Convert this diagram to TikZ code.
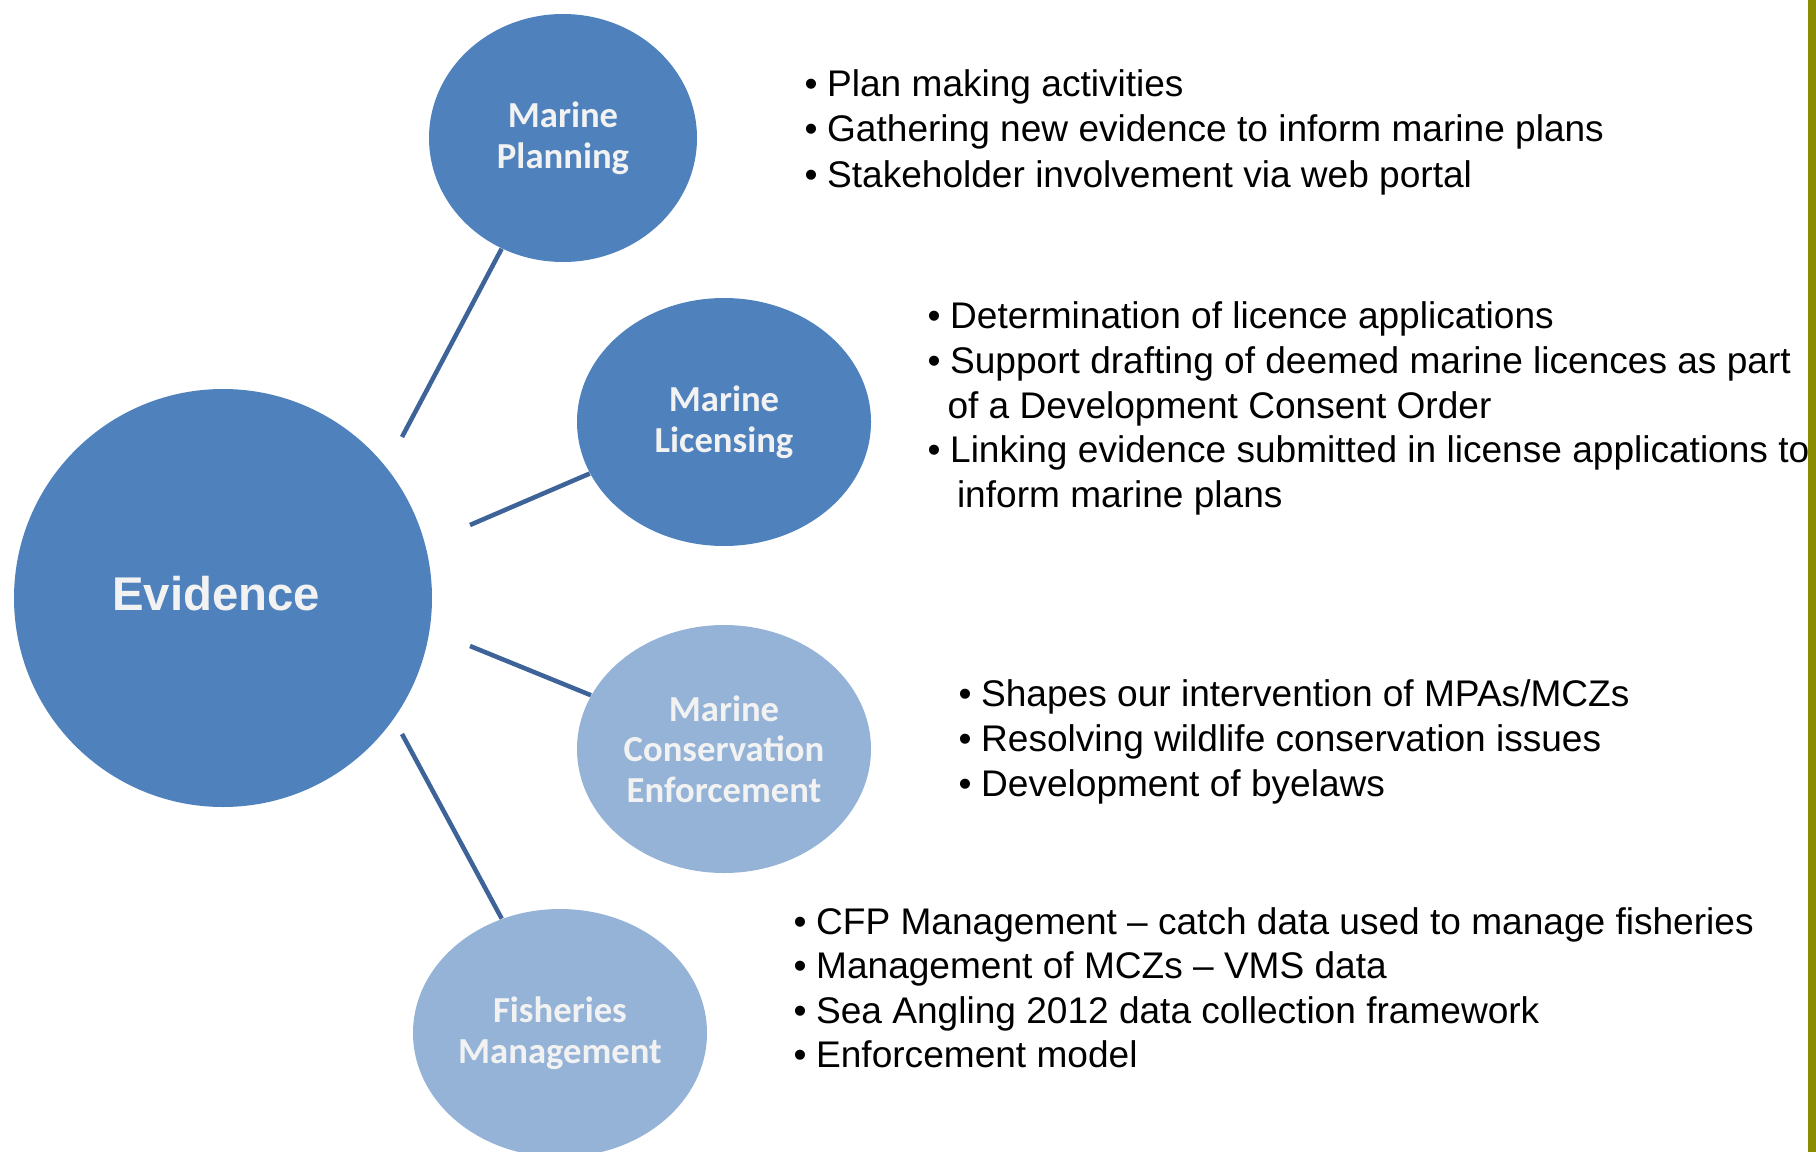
\documentclass[tikz,border=0pt]{standalone}
\usepackage{fontspec}
\setmainfont{Liberation Sans}
\newfontfamily\calibrifont{Carlito}
\usetikzlibrary{shapes.geometric}

\definecolor{deepblue}{RGB}{79,129,189}
\definecolor{paleblue}{RGB}{149,179,215}
\definecolor{linkblue}{RGB}{62,99,153}
\definecolor{labelwhite}{RGB}{242,242,242}
\definecolor{olivebar}{RGB}{140,140,0}

\newcommand{\bul}{\makebox[17pt][l]{\textbullet}}

\tikzset{every picture/.style={line width=0.75pt}}
\tikzset{
  bubble/.style={ellipse, draw=none, inner sep=0pt, align=center, text=labelwhite,
    minimum width=220.5pt, minimum height=186pt,
    font=\calibrifont\bfseries\fontsize{27.5}{30.4}\selectfont},
  link/.style={draw=linkblue, line width=3.4pt},
  item/.style={anchor=base west, inner sep=0pt, font=\fontsize{27.8}{33.5}\selectfont},
}

\begin{document}
\begin{tikzpicture}[x=0.75pt,y=0.75pt,yscale=-1,xscale=1]
\useasboundingbox (0,0) rectangle (1816,1152);

%Rule at the right edge
\fill [olivebar] (1808,0) rectangle (1816,1152) ;

%Centre bubble
\node [circle, fill=deepblue, minimum size=313.5pt, inner sep=0pt, text=labelwhite, font=\bfseries\fontsize{35.5}{42}\selectfont] (ev) at (223,598) {\raisebox{7pt}{Evidence}\hspace*{10pt}};

%Outer bubbles
\node [bubble, fill=deepblue, minimum width=201pt] (mp) at (563,138) {Marine\\Planning};
\node [bubble, fill=deepblue] (ml) at (724,422) {Marine\\Licensing};
\node [bubble, fill=paleblue] (mce) at (724,749) {Marine\\Conservation\\Enforcement};
\node [bubble, fill=paleblue] (fm) at (560,1033) {Fisheries\\Management};

%Free ends near the centre bubble
\coordinate (e1) at (402,437);
\coordinate (e2) at (470,525);
\coordinate (e3) at (470,646);
\coordinate (e4) at (402,734);

%Links
\draw [link] (e1) -- (mp.241.7) ;
\draw [link] (e2) -- (ml.201.7) ;
\draw [link] (e3) -- (mce.158) ;
\draw [link] (e4) -- (fm.117.9) ;

% Text Node
\node [item] (mpa) at (804,97) {\bul Plan making activities};
\node [item] (mpb) at (804,142) {\bul Gathering new evidence to inform marine plans};
\node [item] (mpc) at (804,187) {\bul Stakeholder involvement via web portal};

% Text Node
\node [item] (mla) at (927,328) {\bul Determination of licence applications};
\node [item] (mlb) at (927,373) {\bul Support drafting of deemed marine licences as part};
\node [item] (mlc) at (947,418.5) {of a Development Consent Order};
\node [item] (mld) at (927,462.5) {\bul Linking evidence submitted in license applications to};
\node [item] (mle) at (956.5,507.7) {inform marine plans};

% Text Node
\node [item] (mcea) at (958,706) {\bul Shapes our intervention of MPAs/MCZs};
\node [item] (mceb) at (958,751) {\bul Resolving wildlife conservation issues};
\node [item] (mcec) at (958,796) {\bul Development of byelaws};

% Text Node
\node [item] (fma) at (793,934) {\bul CFP Management -- catch data used to manage fisheries};
\node [item] (fmb) at (793,978) {\bul Management of MCZs -- VMS data};
\node [item] (fmc) at (793,1023) {\bul Sea Angling 2012 data collection framework};
\node [item] (fmd) at (793,1067) {\bul Enforcement model};

\end{tikzpicture}
\end{document}
